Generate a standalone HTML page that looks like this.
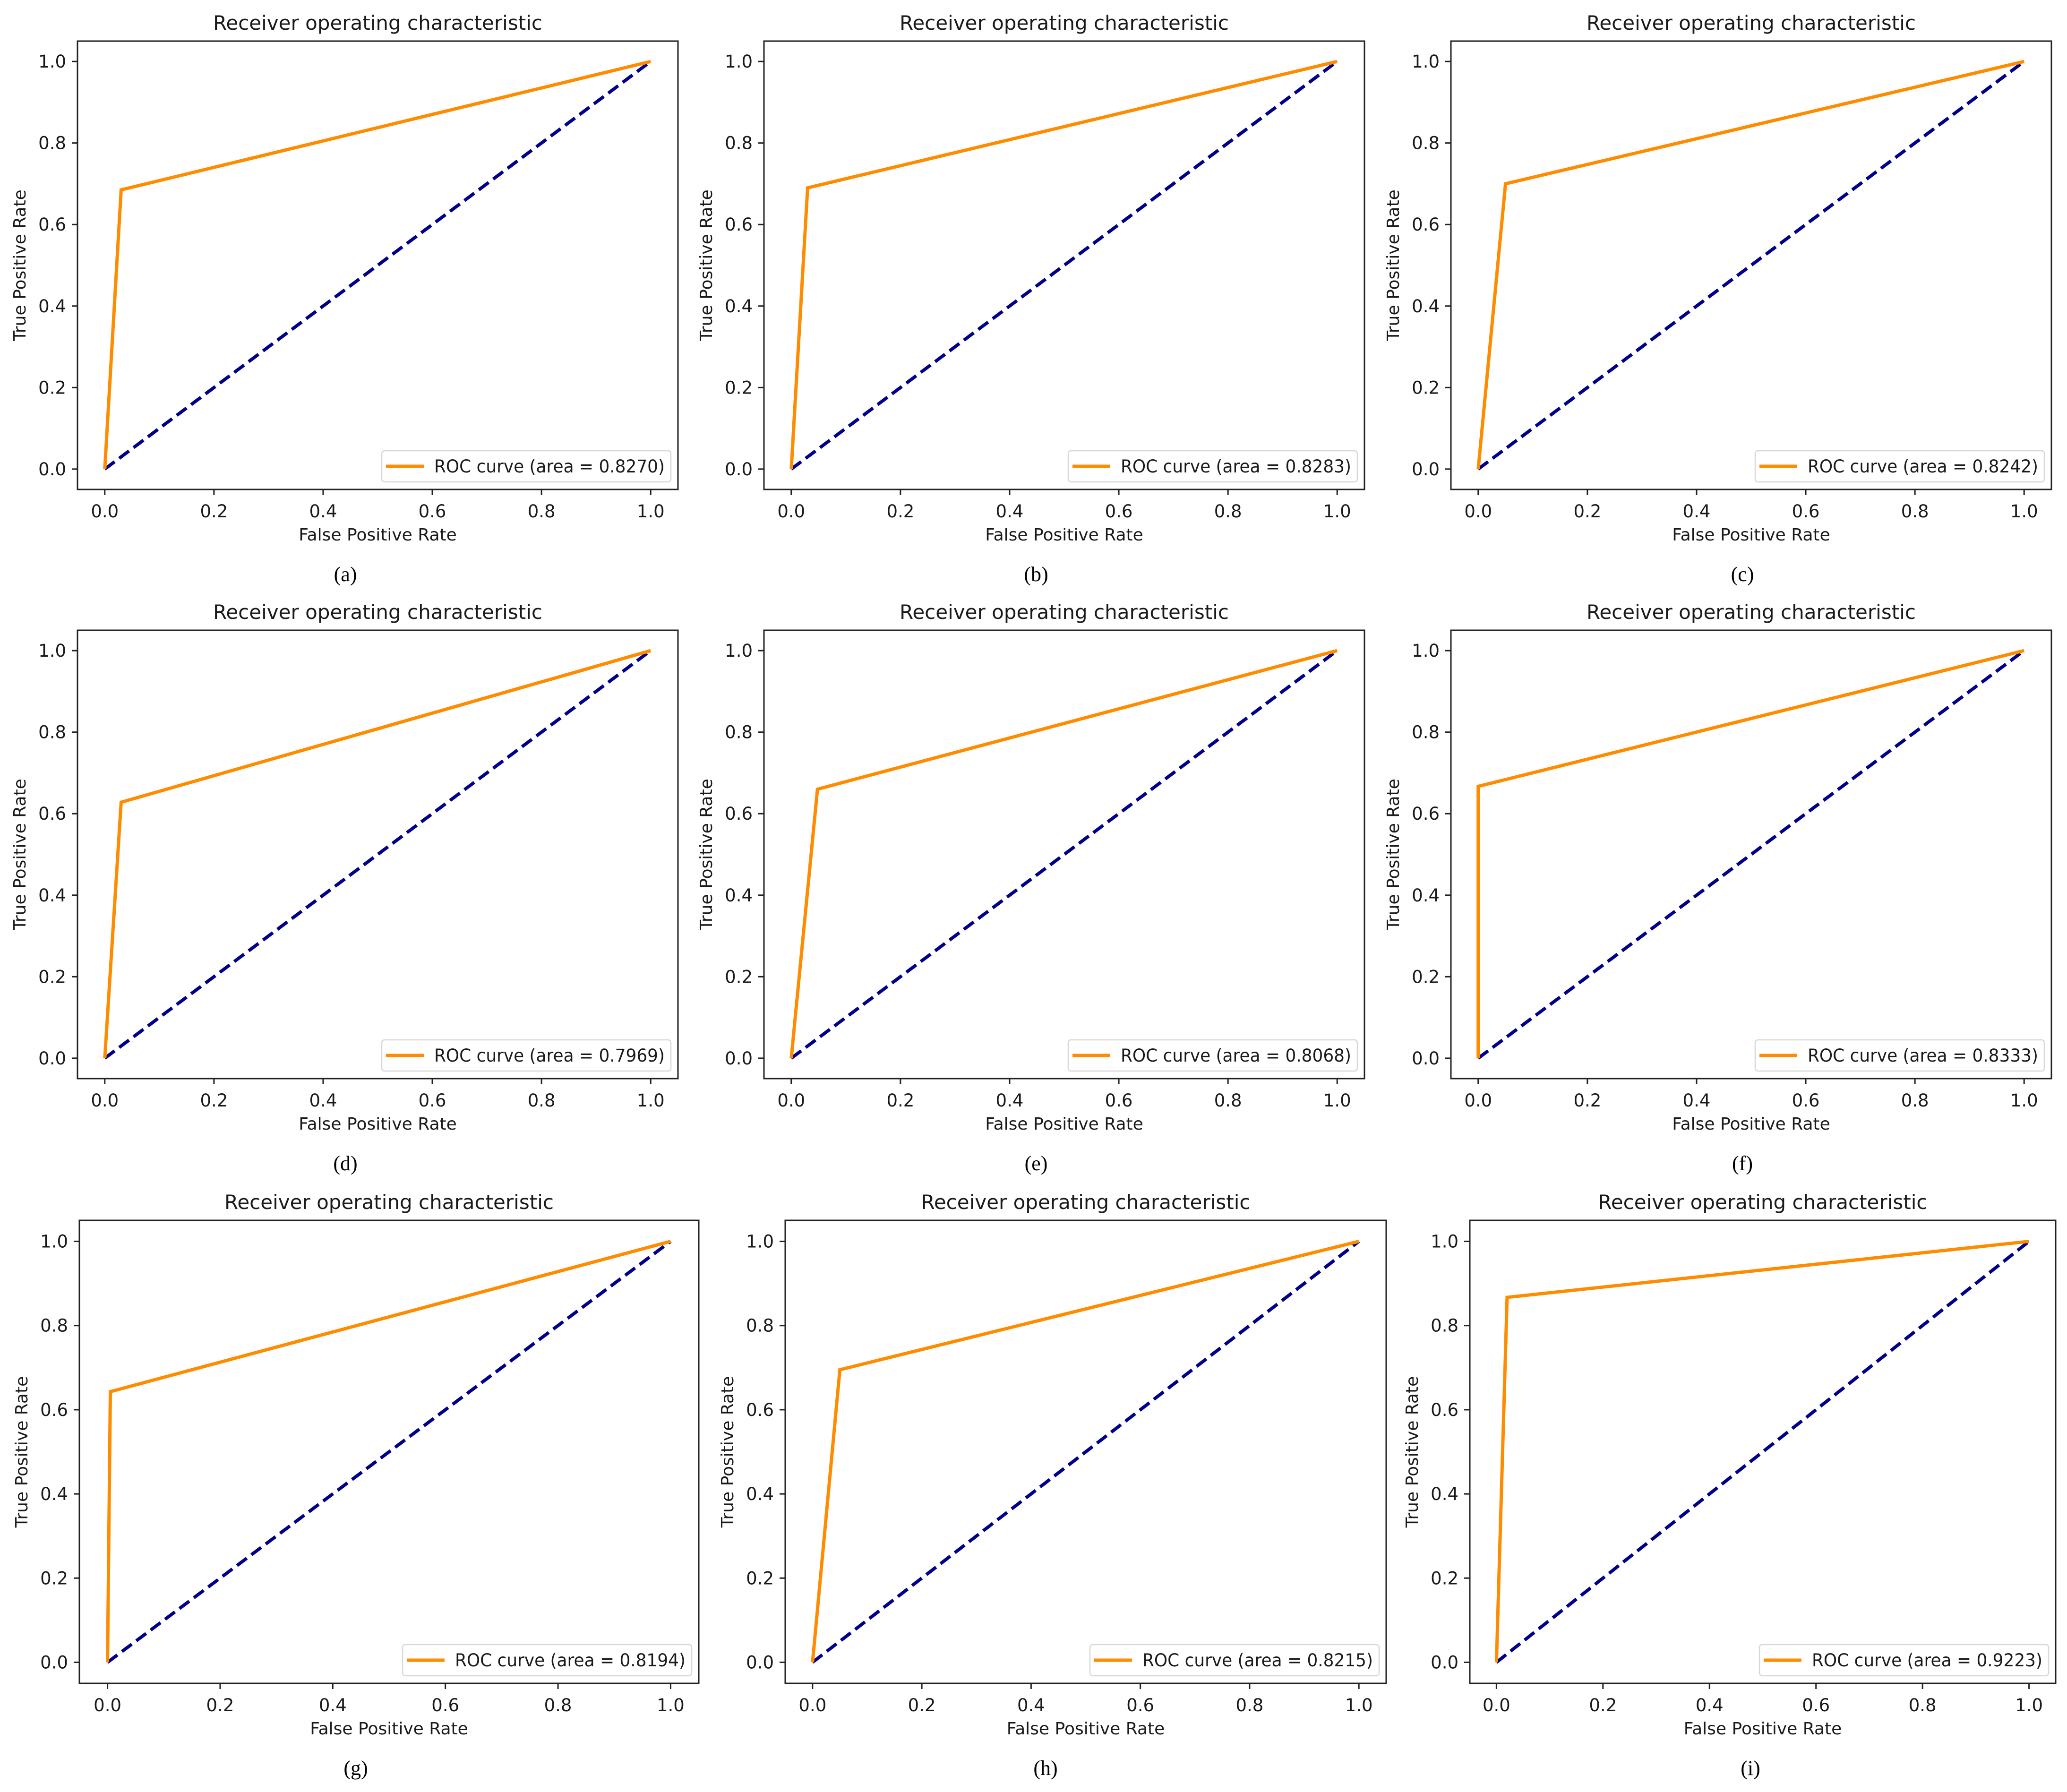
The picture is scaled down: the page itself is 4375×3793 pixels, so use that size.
<!DOCTYPE html>
<html><head><meta charset="utf-8">
<style>
html,body{margin:0;padding:0;background:#fff;}
svg{display:block;}
text{font-family:"DejaVu Sans","Liberation Sans",sans-serif;fill:#1a1a1a;}
.cap{font-family:"Liberation Serif",serif;fill:#000;}
</style></head>
<body>
<svg id="fig" xmlns="http://www.w3.org/2000/svg" width="4375" height="3793" viewBox="0 0 4375 3793"></svg>
<script>
// ---- data ----
const panelIds = ["a","b","c","d","e","f","g","h","i"];
const kneeFpr = [0.03, 0.03, 0.05, 0.03, 0.048, 0.0, 0.005, 0.05, 0.02];
const kneeTpr = [0.685, 0.69, 0.70, 0.628, 0.66, 0.667, 0.643, 0.695, 0.867];
const aucLabels = ["0.8270","0.8283","0.8242","0.7969","0.8068","0.8333","0.8194","0.8215","0.9223"];
const tickValues = [0, 0.2, 0.4, 0.6, 0.8, 1.0];
const tickLabels = ["0.0","0.2","0.4","0.6","0.8","1.0"];

// ---- layout (pixel geometry of each axes box) ----
const boxes = [
  [164,87,1435,1036],[1617,87,2888,1036],[3071,87,4342,1036],
  [164,1334,1435,2283],[1617,1334,2888,2283],[3071,1334,4342,2283],
  [168,2583,1479,3563],[1662,2583,2934,3563],[3111,2583,4351,3563]
];
const capX = [731,2193,3688,731,2193,3688,753,2213,3705];

const NS = "http://www.w3.org/2000/svg";
const fig = document.getElementById("fig");
function mk(tag, attrs, parent, txt){
  const e = document.createElementNS(NS, tag);
  for (const k in attrs) e.setAttribute(k, attrs[k]);
  if (txt !== undefined) e.textContent = txt;
  parent.appendChild(e);
  return e;
}

for (let p = 0; p < 9; p++){
  const [L,T,R,B] = boxes[p];
  const w = R-L, h = B-T;
  const mx = w/1.1*0.05, my = h/1.1*0.05;
  const sx = v => L + mx + v*(w-2*mx);
  const sy = v => B - my - v*(h-2*my);

  const g = mk("g", {}, fig);
  
  

  const title = mk("text", {x:(L+R)/2, y:T-24, "font-size":42, "text-anchor":"middle"}, g, "Receiver operating characteristic");
  
  

  for (let t = 0; t < tickValues.length; t++){
    const xv = sx(tickValues[t]), yv = sy(tickValues[t]);
    mk("line", {x1:xv, y1:B, x2:xv, y2:B+12, stroke:"#222", "stroke-width":3}, g);
    const xl = mk("text", {x:xv, y:B+59, "font-size":37, "text-anchor":"middle"}, g, tickLabels[t]);
    
    
    mk("line", {x1:L-12, y1:yv, x2:L, y2:yv, stroke:"#222", "stroke-width":3}, g);
    const yl = mk("text", {x:L-24, y:yv+13, "font-size":37, "text-anchor":"end"}, g, tickLabels[t]);
    
    
  }

  const xt = mk("text", {x:(L+R)/2, y:B+108, "font-size":36, "text-anchor":"middle"}, g, "False Positive Rate");
  
  
  const cy = (T+B)/2, cx = L-110;
  const yt = mk("text", {x:cx, y:cy, "font-size":36, "text-anchor":"middle", transform:`rotate(-90 ${cx} ${cy})`}, g, "True Positive Rate");
  
  

  const diag = mk("line", {x1:sx(0), y1:sy(0), x2:sx(1), y2:sy(1), stroke:"#00008b", "stroke-width":7, "stroke-dasharray":"26 12"}, g);
  
  

  const pts = [[0,0],[kneeFpr[p],kneeTpr[p]],[1,1]].map(q => sx(q[0])+","+sy(q[1])).join(" ");
  const roc = mk("polyline", {points:pts, fill:"none", stroke:"#ff8c00", "stroke-width":7, "stroke-linejoin":"miter"}, g);
  
  

  const sp = mk("rect", {x:L, y:T, width:w, height:h, fill:"none", stroke:"#222", "stroke-width":3}, g);
  
  

  const lw = 612, lh = 66, lx = R-15-lw, ly = B-16-lh;
  const lg = mk("g", {}, g);
  
  
  mk("rect", {x:lx, y:ly, width:lw, height:lh, rx:6, fill:"#fff", stroke:"#d8d8d8", "stroke-width":2.5}, lg);
  mk("line", {x1:lx+9, y1:ly+lh/2, x2:lx+89, y2:ly+lh/2, stroke:"#ff8c00", "stroke-width":7}, lg);
  const lt = mk("text", {x:lx+111, y:ly+lh/2+13, "font-size":37, textLength:488, lengthAdjust:"spacingAndGlyphs"}, lg, "ROC curve (area = " + aucLabels[p] + ")");
  
  

  const cap = mk("text", {x:capX[p], y:B+194, "font-size":44, "text-anchor":"middle", class:"cap"}, g, "(" + panelIds[p] + ")");
  
  
}
</script>
</body></html>
